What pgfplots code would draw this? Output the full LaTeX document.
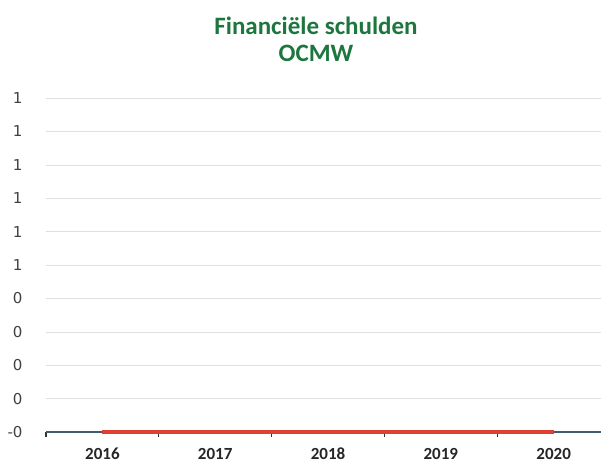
\documentclass[border=0pt]{standalone}
\usepackage{pgfplots}
\pgfplotsset{compat=1.18}
\usepackage{fontspec}
\setmainfont{Carlito}
\newfontfamily\ticklabfont{DejaVu Sans}
\definecolor{titlegreen}{RGB}{28,118,62}
\definecolor{redline}{RGB}{222,64,52}
\definecolor{axisblue}{RGB}{62,92,112}
\begin{document}
\begin{tikzpicture}[x=1pt,y=1pt]
\path[use as bounding box] (0,0) rectangle (601,464);
\begin{axis}[
  at={(46pt,32pt)}, anchor=south west,
  scale only axis, width=555pt, height=334pt,
  xmin=-0.5, xmax=4.42, ymin=0, ymax=1,
  clip=false,
  axis line style={draw=none},
  tick pos=left,
  major tick length=0pt,
  xtick={0,1,2,3,4},
  xticklabels={2016,2017,2018,2019,2020},
  xticklabel style={font=\fontsize{17}{17}\selectfont\bfseries, text=black!85, anchor=center, yshift=-22pt},
  extra x ticks={-0.5,0.5,1.5,2.5,3.5},
  extra x tick labels={},
  extra x tick style={major tick length=5pt, tick align=outside, x tick style={draw=black!80, line width=1.2pt}, grid=none},
  ytick={0,0.1,0.2,0.3,0.4,0.5,0.6,0.7,0.8,0.9,1},
  yticklabels={-0,0,0,0,0,1,1,1,1,1,1},
  yticklabel style={font=\ticklabfont\fontsize{15}{15}\selectfont, text=black!75, anchor=east, xshift=-20pt},
  ymajorgrids, grid style={black!12, line width=0.6pt},
]
\addplot[axisblue, line width=2.5pt] coordinates {(-0.5,0) (4.42,0)};
\addplot[redline, line width=4pt] coordinates {(0,0) (1,0) (2,0) (3,0) (4,0)};
\end{axis}
\node[font=\fontsize{25}{25}\selectfont\bfseries, text=titlegreen] at (316,438) {Financiële schulden};
\node[font=\fontsize{25}{25}\selectfont\bfseries, text=titlegreen] at (316,411) {OCMW};
\end{tikzpicture}
\end{document}
